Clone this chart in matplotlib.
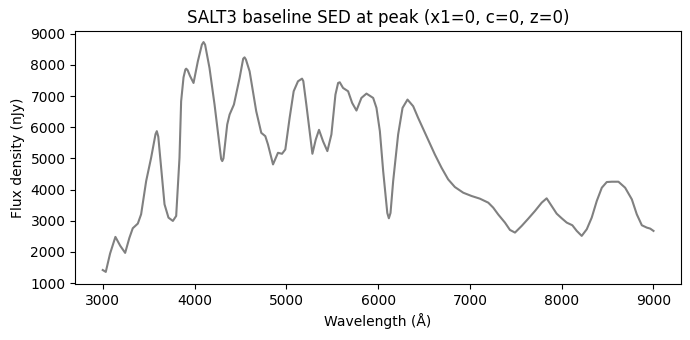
import numpy as np
import matplotlib
matplotlib.use("Agg")
from matplotlib import pyplot as plt
from matplotlib.ticker import MultipleLocator

# wavelength (Angstrom) and flux (nJy)
wave = [3000, 3033, 3080, 3138, 3190, 3244, 3290, 3327, 3382, 3418, 3473, 3527, 3560, 3575,
        3589, 3605, 3636, 3673, 3716, 3764, 3800, 3836, 3854, 3880, 3900, 3909, 3925, 3950,
        3989, 4036, 4080, 4098, 4115, 4163, 4218, 4260, 4290, 4302, 4315, 4356, 4382, 4429,
        4491, 4530, 4545, 4560, 4600, 4672, 4712, 4727, 4771, 4800, 4855, 4909, 4953, 4989,
        5036, 5080, 5127, 5160, 5171, 5185, 5218, 5284, 5320, 5356, 5400, 5447, 5491, 5535,
        5564, 5582, 5618, 5673, 5717, 5764, 5818, 5873, 5946, 5982, 6019, 6055, 6100, 6117,
        6135, 6164, 6218, 6266, 6320, 6382, 6436, 6527, 6618, 6691, 6763, 6836, 6927, 7018,
        7109, 7200, 7254, 7309, 7382, 7436, 7491, 7564, 7636, 7709, 7782, 7836, 7891, 7945,
        8000, 8055, 8116, 8164, 8218, 8273, 8327, 8382, 8437, 8491, 8546, 8618, 8691, 8764,
        8818, 8873, 8927, 8964, 9000]
flux = [1420, 1360, 1950, 2483, 2200, 1970, 2450, 2760, 2910, 3208, 4275, 5021, 5550, 5780,
        5875, 5700, 4701, 3528, 3101, 2995, 3155, 5021, 6835, 7600, 7850, 7880, 7830, 7650,
        7421, 8115, 8650, 8733, 8650, 7901, 6728, 5700, 4980, 4915, 5000, 6088, 6408, 6728,
        7581, 8200, 8243, 8170, 7795, 6515, 6000, 5821, 5715, 5448, 4808, 5181, 5149, 5288,
        6301, 7155, 7475, 7540, 7560, 7480, 6728, 5149, 5600, 5917, 5550, 5235, 5768, 7048,
        7421, 7443, 7261, 7155, 6781, 6536, 6941, 7080, 6941, 6621, 5875, 4595, 3250, 3080,
        3250, 4275, 5768, 6621, 6888, 6675, 6301, 5715, 5128, 4701, 4328, 4083, 3901, 3795,
        3709, 3581, 3421, 3200, 2941, 2707, 2621, 2835, 3069, 3315, 3581, 3720, 3475, 3229,
        3080, 2941, 2856, 2675, 2515, 2728, 3101, 3635, 4061, 4243, 4253, 4253, 4061, 3688,
        3208, 2856, 2781, 2749, 2675]

fig, ax = plt.subplots(figsize=(6.9, 3.4), dpi=100)
ax.plot(wave, flux, color="gray", lw=1.5)
ax.set_ylim(975, 9090)
ax.yaxis.set_major_locator(MultipleLocator(1000))
ax.set_title("SALT3 baseline SED at peak (x1=0, c=0, z=0)")
ax.set_xlabel("Wavelength (Å)")
ax.set_ylabel("Flux density (nJy)")
plt.subplots_adjust(left=0.109, right=0.987, top=0.909, bottom=0.165)
plt.savefig("out.png", dpi=100)
